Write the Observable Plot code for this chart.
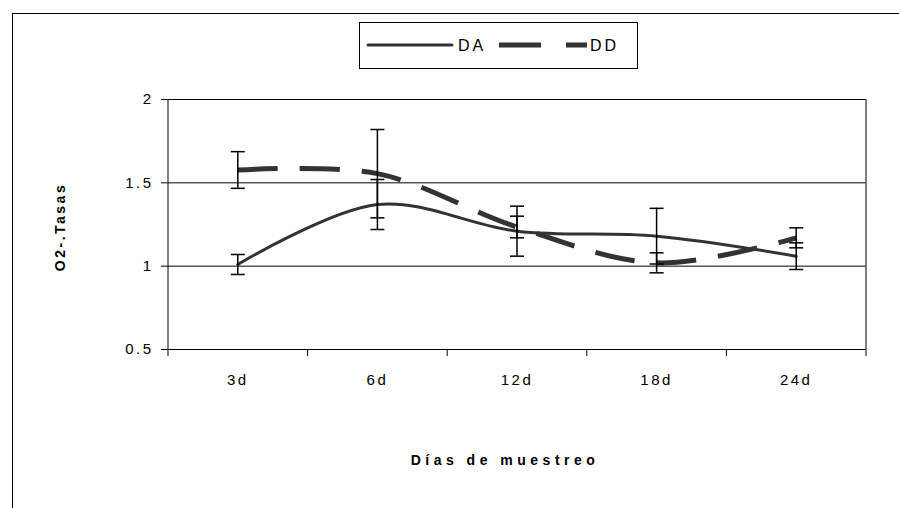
<!DOCTYPE html>
<html><head><meta charset="utf-8">
<script src="https://cdn.jsdelivr.net/npm/d3@7"></script>
<script src="https://cdn.jsdelivr.net/npm/@observablehq/plot@0.6"></script>
<style>
html,body{margin:0;padding:0;background:#fff;overflow:hidden}
#wrap{position:relative;width:899px;height:508px;font-family:"Liberation Sans",Arial,sans-serif;color:#000}
#border{position:absolute;left:12px;top:13px;width:900px;height:500px;border:1px solid #000;box-sizing:border-box}
#chart{position:absolute;left:0;top:0}
#legend{position:absolute;left:359px;top:22px}
.title{position:absolute;font-weight:bold;font-size:14px;white-space:nowrap}
#xt{left:505px;top:460px;transform:translate(-50%,-50%);letter-spacing:4.5px}
#yt{left:60px;top:227px;transform:translate(-50%,-50%) rotate(-90deg);letter-spacing:2.5px}
</style></head>
<body>
<div id="wrap">
  <div id="border"></div>
  <div id="chart"></div>
  <svg id="legend" width="279" height="47" xmlns="http://www.w3.org/2000/svg"></svg>
  <div class="title" id="xt">Días de muestreo</div>
  <div class="title" id="yt">O2-.Tasas</div>
</div>
<script>
const categories = ["3d", "6d", "12d", "18d", "24d"];
const seriesNames = ["DA", "DD"];
const daMean = [1.01, 1.37, 1.21, 1.18, 1.06];
const ddMean = [1.577, 1.555, 1.235, 1.02, 1.17];
const daErr = [0.06, 0.15, 0.15, 0.167, 0.08];
const ddErr = [0.11, 0.265, 0.065, 0.06, 0.06];
const yTicks = [0.5, 1, 1.5, 2];

const idx = categories.map((_, i) => i);
const bounds = [-0.5, ...idx.map(i => i + 0.5)];
const rows = seriesNames.flatMap(s => categories.map((c, i) => ({
  series: s, i, cat: c,
  v: s === "DA" ? daMean[i] : ddMean[i],
  e: s === "DA" ? daErr[i] : ddErr[i]
})));
const da = rows.filter(r => r.series === "DA");
const dd = rows.filter(r => r.series === "DD");

const capSymbol = {draw(ctx, size) { const r = Math.sqrt(size / Math.PI); ctx.moveTo(-r, 0); ctx.lineTo(r, 0); }};
const font = '"Liberation Sans", Arial, sans-serif';

const plot = Plot.plot({
  width: 899, height: 508,
  marginLeft: 167.5, marginRight: 33.5, marginTop: 99, marginBottom: 159,
  x: {type: "linear", domain: [-0.5, 4.5]},
  y: {domain: [0.5, 2]},
  style: {fontFamily: font, fontSize: "15px", color: "#000", background: "transparent", overflow: "visible"},
  marks: [
    Plot.ruleY([1, 1.5, 2], {stroke: "#000", strokeWidth: 1}),
    Plot.ruleX([4.5], {stroke: "#000", strokeWidth: 1}),
    Plot.line(da, {x: "i", y: "v", curve: "catmull-rom", stroke: "#333", strokeWidth: 3}),
    Plot.line(dd, {x: "i", y: "v", curve: "catmull-rom", stroke: "#333", strokeWidth: 5, strokeDasharray: "40,22", strokeLinecap: "butt"}),
    Plot.ruleX(rows, {x: "i", y1: d => d.v - d.e, y2: d => d.v + d.e, stroke: "#000", strokeWidth: 1.5}),
    Plot.dot(rows, {x: "i", y: d => d.v + d.e, symbol: capSymbol, r: 7, stroke: "#000", strokeWidth: 1.5, fill: "none"}),
    Plot.dot(rows, {x: "i", y: d => d.v - d.e, symbol: capSymbol, r: 7, stroke: "#000", strokeWidth: 1.5, fill: "none"}),
    Plot.ruleX([-0.5], {stroke: "#000", strokeWidth: 1}),
    Plot.ruleY([0.5], {stroke: "#000", strokeWidth: 1}),
    Plot.axisY({ticks: yTicks, tickSize: 6.5, tickPadding: 8, tickFormat: d => String(d), label: null}),
    Plot.axisX({ticks: bounds, tickSize: 7, tickFormat: () => "", label: null}),
    Plot.axisX({ticks: idx, tickSize: 0, tickPadding: 25, tickFormat: i => categories[i], label: null})
  ]
});
document.getElementById("chart").appendChild(plot);
plot.querySelectorAll("g").forEach(g => { if (g.getAttribute("font-size")) g.setAttribute("font-size", "15"); });
plot.querySelectorAll("text").forEach(t => { t.style.fontSize = "15px"; t.setAttribute("letter-spacing", "2.5"); });

// legend
const lg = d3.select("#legend");
lg.append("rect").attr("x", 0.5).attr("y", 0.5).attr("width", 278).attr("height", 46).attr("fill", "#fff").attr("stroke", "#000");
lg.append("line").attr("x1", 9).attr("x2", 93).attr("y1", 23).attr("y2", 23).attr("stroke", "#333").attr("stroke-width", 3).attr("stroke-linecap", "round");
lg.append("text").attr("x", 99).attr("y", 29).attr("font-size", 16).attr("letter-spacing", 3).attr("font-family", font).text(seriesNames[0]);
lg.append("line").attr("x1", 140).attr("x2", 228).attr("y1", 23).attr("y2", 23).attr("stroke", "#333").attr("stroke-width", 5).attr("stroke-dasharray", "42,25");
lg.append("text").attr("x", 231).attr("y", 29).attr("font-size", 16).attr("letter-spacing", 3).attr("font-family", font).text(seriesNames[1]);
</script>
</body></html>
